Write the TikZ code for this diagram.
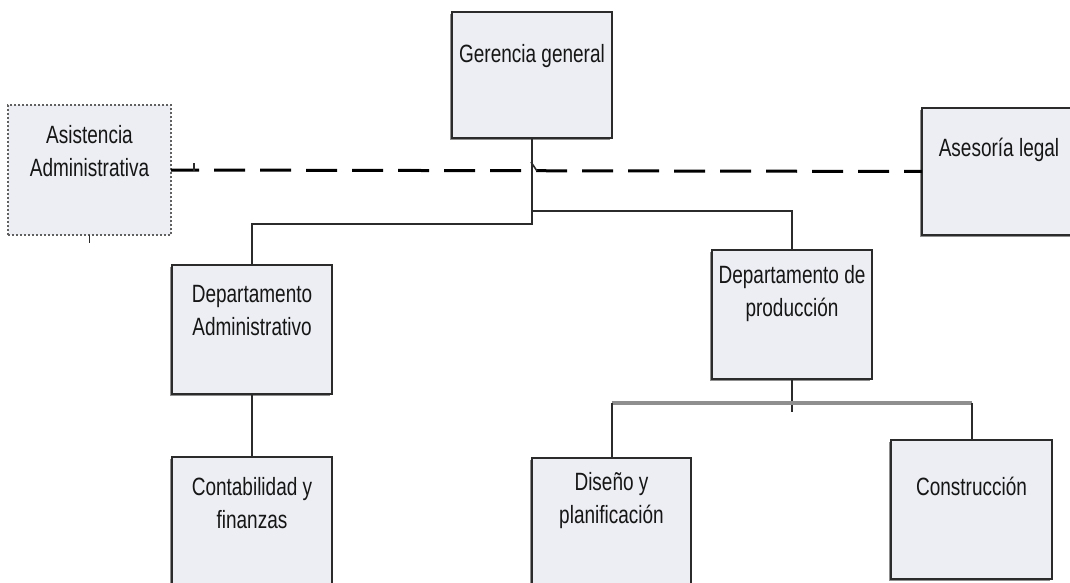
\documentclass[tikz,border=0pt]{standalone}
\usepackage{fontspec}
\setmainfont[FakeStretch=0.76]{Liberation Sans}
\usetikzlibrary{shadows}
\definecolor{boxfill}{HTML}{ECEEF4}
\definecolor{edge}{HTML}{2B2B2B}
\definecolor{shade}{HTML}{8F8F8F}
\definecolor{ink}{HTML}{161616}
% centred lines whose baseline is that of the first line
\newcommand{\boxlines}[1]{\begin{tabular}[t]{@{}c@{}}#1\end{tabular}}

\begin{document}
\begin{tikzpicture}[x=1pt,y=-1pt,
  unit/.style={draw=edge, line width=2pt, fill=boxfill, inner sep=0pt, outer sep=0pt,
    general shadow={shadow xshift=-2pt, shadow yshift=-2pt, fill=shade}},
  staff/.style={draw=edge!75, line width=2pt, dash pattern=on 2pt off 2pt,
    fill=boxfill, inner sep=0pt, outer sep=0pt},
  caption/.style={anchor=base, inner sep=0pt, text=ink,
    font=\fontsize{25}{33.5}\selectfont},
  link/.style={draw=edge, line width=2pt},
  bar/.style={draw=shade, line width=4pt},
  advisory/.style={draw=black, line width=3pt, dash pattern=on 31pt off 15pt, dash phase=3pt}]

\useasboundingbox (0,0) rectangle (1070,583);
\clip (0,0) rectangle (1070,583);

% junction points of the tree
\coordinate (jr) at (532,211);
\coordinate (jl) at (532,224);
\coordinate (jb) at (792,403);
\coordinate (hopa) at (531,162);
\coordinate (hopb) at (537,171);
\coordinate (ticka) at (194,163);
\coordinate (tickb) at (194,171);

% units
\node[unit, minimum width=160pt, minimum height=126pt] (ger)   at (532,75)    {};
\node[staff, minimum width=163pt, minimum height=130pt] (asis) at (89.5,170)  {};
\node[unit, minimum width=160pt, minimum height=127pt] (ases)  at (1002,171.5){};
\node[unit, minimum width=160pt, minimum height=129pt] (dadm)  at (252,329.5) {};
\node[unit, minimum width=160pt, minimum height=143pt] (cont)  at (252,528.5) {};
\node[unit, minimum width=160pt, minimum height=129pt] (dprod) at (792,314.5) {};
\node[unit, minimum width=159pt, minimum height=142pt] (dis)   at (611.5,529) {};
\node[unit, minimum width=161pt, minimum height=139pt] (cons)  at (971.5,509.5){};

% captions
\node[caption] (ger-t)   at (532,63)   {\boxlines{Gerencia general}};
\node[caption] (asis-t)  at (89.5,143) {\boxlines{Asistencia\\Administrativa}};
\node[caption] (ases-t)  at (999,157)  {\boxlines{Asesoría legal}};
\node[caption] (dadm-t)  at (252,302)  {\boxlines{Departamento\\Administrativo}};
\node[caption] (cont-t)  at (252,495)  {\boxlines{Contabilidad y\\finanzas}};
\node[caption] (dprod-t) at (792,283)  {\boxlines{Departamento de\\producción}};
\node[caption] (dis-t)   at (611.5,490){\boxlines{Diseño y\\planificación}};
\node[caption] (cons-t)  at (971.5,495){\boxlines{Construcción}};

% staff line to the advisory units
\draw[advisory] (asis.east) -- (ases.west);
\draw[link, line width=1.6pt] (ticka) -- (tickb);
\draw[link, line width=1.6pt] (hopa) -- (hopb);
\draw[link, line width=1.6pt] (asis.south) -- ++(0,8);

% line of command
\draw[link] (ger.south) -- (jl) -| (dadm.north);
\draw[link] (jr) -| (dprod.north);
\draw[link] (dadm.south) -- (cont.north);
\draw[link] (dprod.south) -- ([yshift=-9pt]jb);
\draw[bar] (dis.north |- jb) -- (cons.north |- jb);
\draw[link] (dis.north) -- (dis.north |- jb);
\draw[link] (cons.north) -- (cons.north |- jb);
\end{tikzpicture}
\end{document}
